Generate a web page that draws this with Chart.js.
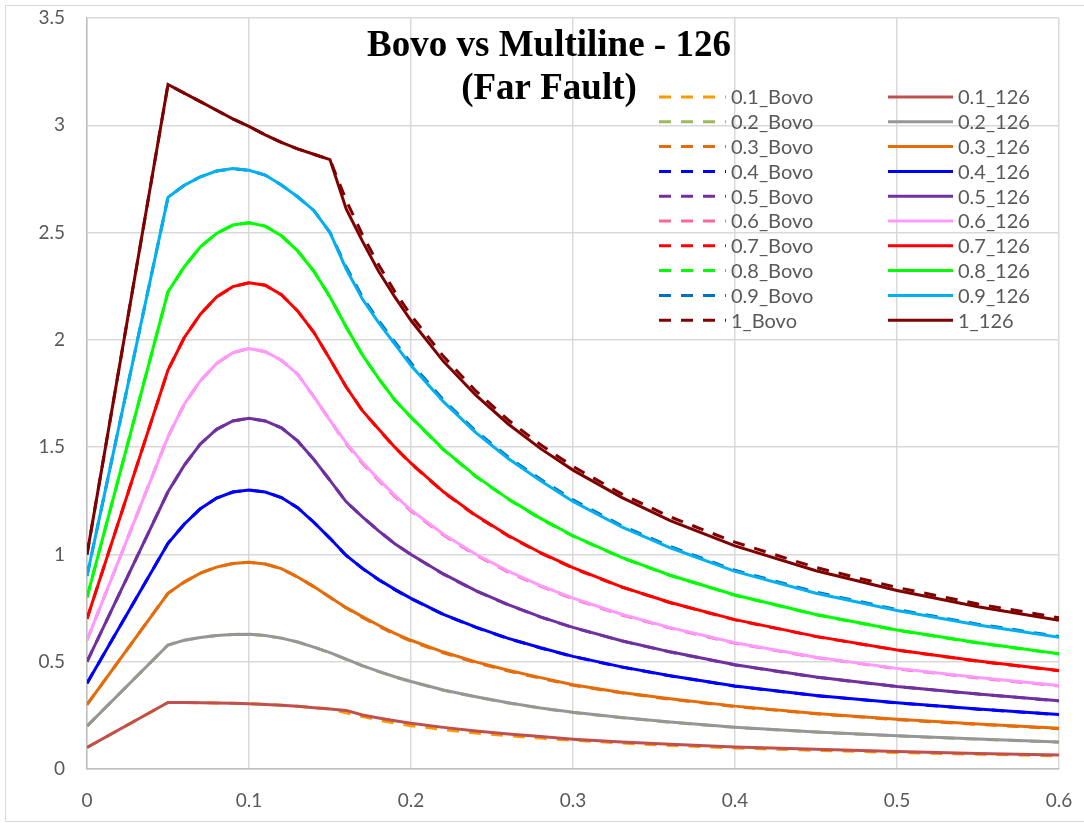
<!DOCTYPE html>
<html>
<head>
<meta charset="utf-8">
<title>Bovo vs Multiline - 126</title>
<script src="https://cdn.jsdelivr.net/npm/chart.js@4.4.1/dist/chart.umd.min.js"></script>
<style>
  html, body { margin: 0; padding: 0; background: #fff; }
  #wrap { width: 1084px; height: 823px; }
</style>
</head>
<body>
<div id="wrap"><canvas id="chart" width="1084" height="823"></canvas></div>
<script>
// periods (s)
const periods = [0, 0.05, 0.06, 0.07, 0.08, 0.09, 0.10, 0.11, 0.12, 0.13, 0.14, 0.15, 0.16, 0.17, 0.18, 0.19, 0.20,
                 0.22, 0.24, 0.26, 0.28, 0.30, 0.33, 0.36, 0.40, 0.45, 0.50, 0.55, 0.60];

// Bovo spectra
const bovo_01 = [0.10, 0.31, 0.31, 0.309, 0.308, 0.306, 0.304, 0.301, 0.297, 0.292, 0.286, 0.28, 0.262, 0.245, 0.228, 0.214, 0.202, 0.184, 0.168, 0.155, 0.144, 0.134, 0.121, 0.11, 0.098, 0.087, 0.077, 0.069, 0.061];
const bovo_02 = [0.20, 0.578, 0.60, 0.613, 0.622, 0.627, 0.628, 0.622, 0.61, 0.592, 0.568, 0.542, 0.511, 0.481, 0.454, 0.429, 0.407, 0.367, 0.336, 0.308, 0.283, 0.263, 0.239, 0.218, 0.194, 0.172, 0.154, 0.139, 0.125];
const bovo_03 = [0.30, 0.819, 0.871, 0.913, 0.941, 0.958, 0.963, 0.955, 0.934, 0.895, 0.85, 0.80, 0.75, 0.706, 0.666, 0.628, 0.596, 0.541, 0.496, 0.457, 0.423, 0.39, 0.355, 0.325, 0.291, 0.257, 0.23, 0.208, 0.188];
const bovo_04 = [0.40, 1.052, 1.141, 1.213, 1.263, 1.291, 1.30, 1.291, 1.265, 1.218, 1.15, 1.075, 0.995, 0.935, 0.882, 0.836, 0.794, 0.72, 0.66, 0.608, 0.564, 0.524, 0.475, 0.434, 0.386, 0.342, 0.308, 0.279, 0.253];
const bovo_05 = [0.50, 1.292, 1.415, 1.515, 1.583, 1.622, 1.634, 1.622, 1.59, 1.529, 1.443, 1.345, 1.245, 1.175, 1.11, 1.05, 0.999, 0.908, 0.83, 0.765, 0.708, 0.659, 0.597, 0.545, 0.485, 0.428, 0.384, 0.349, 0.317];
const bovo_06 = [0.60, 1.549, 1.70, 1.81, 1.89, 1.94, 1.96, 1.945, 1.905, 1.84, 1.735, 1.625, 1.515, 1.425, 1.345, 1.27, 1.202, 1.09, 0.997, 0.918, 0.852, 0.793, 0.718, 0.657, 0.586, 0.519, 0.467, 0.424, 0.387];
const bovo_07 = [0.70, 1.859, 2.01, 2.12, 2.20, 2.248, 2.266, 2.255, 2.21, 2.135, 2.035, 1.91, 1.78, 1.67, 1.583, 1.498, 1.423, 1.29, 1.18, 1.086, 1.006, 0.936, 0.848, 0.775, 0.695, 0.617, 0.554, 0.502, 0.458];
const bovo_08 = [0.80, 2.224, 2.34, 2.434, 2.496, 2.535, 2.546, 2.53, 2.485, 2.415, 2.32, 2.20, 2.06, 1.93, 1.82, 1.72, 1.638, 1.488, 1.363, 1.257, 1.166, 1.085, 0.985, 0.902, 0.81, 0.719, 0.647, 0.587, 0.536];
const bovo_09 = [0.90, 2.664, 2.72, 2.76, 2.787, 2.798, 2.79, 2.768, 2.722, 2.667, 2.603, 2.50, 2.34, 2.20, 2.09, 1.99, 1.892, 1.72, 1.575, 1.454, 1.35, 1.254, 1.134, 1.037, 0.926, 0.824, 0.743, 0.675, 0.618];
const bovo_10 = [1.00, 3.19, 3.15, 3.11, 3.07, 3.03, 2.995, 2.955, 2.92, 2.89, 2.865, 2.84, 2.65, 2.49, 2.35, 2.225, 2.115, 1.923, 1.762, 1.627, 1.511, 1.41, 1.282, 1.175, 1.057, 0.939, 0.846, 0.769, 0.705];

// Multiline model 126
const ml_01 = [0.10, 0.31, 0.31, 0.309, 0.308, 0.306, 0.304, 0.301, 0.297, 0.292, 0.286, 0.28, 0.273, 0.252, 0.238, 0.225, 0.213, 0.194, 0.177, 0.163, 0.151, 0.139, 0.126, 0.115, 0.103, 0.092, 0.081, 0.072, 0.065];
const ml_02 = [0.20, 0.578, 0.60, 0.613, 0.622, 0.627, 0.628, 0.622, 0.61, 0.592, 0.568, 0.542, 0.512, 0.482, 0.455, 0.43, 0.408, 0.368, 0.337, 0.309, 0.284, 0.264, 0.24, 0.219, 0.195, 0.173, 0.155, 0.14, 0.126];
const ml_03 = [0.30, 0.819, 0.871, 0.913, 0.941, 0.958, 0.963, 0.955, 0.934, 0.895, 0.85, 0.80, 0.752, 0.71, 0.67, 0.632, 0.60, 0.545, 0.499, 0.46, 0.426, 0.393, 0.357, 0.327, 0.293, 0.259, 0.232, 0.21, 0.19];
const ml_04 = [0.40, 1.052, 1.141, 1.213, 1.263, 1.291, 1.30, 1.291, 1.265, 1.218, 1.15, 1.075, 0.995, 0.935, 0.883, 0.837, 0.795, 0.721, 0.661, 0.609, 0.565, 0.525, 0.476, 0.435, 0.387, 0.343, 0.309, 0.28, 0.254];
const ml_05 = [0.50, 1.292, 1.415, 1.515, 1.583, 1.622, 1.634, 1.622, 1.59, 1.529, 1.443, 1.345, 1.245, 1.175, 1.11, 1.05, 1.00, 0.909, 0.831, 0.766, 0.709, 0.66, 0.598, 0.546, 0.486, 0.429, 0.385, 0.35, 0.318];
const ml_06 = [0.60, 1.549, 1.70, 1.81, 1.89, 1.94, 1.96, 1.945, 1.905, 1.84, 1.735, 1.625, 1.52, 1.43, 1.35, 1.275, 1.207, 1.094, 1.001, 0.922, 0.855, 0.796, 0.721, 0.659, 0.588, 0.521, 0.469, 0.426, 0.389];
const ml_07 = [0.70, 1.859, 2.01, 2.12, 2.20, 2.248, 2.266, 2.255, 2.21, 2.135, 2.035, 1.91, 1.78, 1.67, 1.585, 1.50, 1.425, 1.292, 1.182, 1.088, 1.008, 0.938, 0.849, 0.776, 0.696, 0.618, 0.555, 0.503, 0.459];
const ml_08 = [0.80, 2.224, 2.34, 2.434, 2.496, 2.535, 2.546, 2.53, 2.485, 2.415, 2.32, 2.20, 2.06, 1.93, 1.82, 1.72, 1.64, 1.49, 1.365, 1.259, 1.168, 1.087, 0.986, 0.903, 0.811, 0.72, 0.648, 0.588, 0.537];
const ml_09 = [0.90, 2.664, 2.72, 2.76, 2.787, 2.798, 2.79, 2.768, 2.722, 2.667, 2.603, 2.50, 2.33, 2.19, 2.08, 1.98, 1.88, 1.712, 1.568, 1.447, 1.343, 1.247, 1.128, 1.031, 0.921, 0.819, 0.739, 0.671, 0.614];
const ml_10 = [1.00, 3.19, 3.15, 3.11, 3.07, 3.03, 2.995, 2.955, 2.92, 2.89, 2.865, 2.84, 2.61, 2.46, 2.32, 2.20, 2.09, 1.90, 1.742, 1.608, 1.493, 1.393, 1.266, 1.158, 1.040, 0.924, 0.832, 0.756, 0.693];

const bovoLabels = ['0.1_Bovo', '0.2_Bovo', '0.3_Bovo', '0.4_Bovo', '0.5_Bovo', '0.6_Bovo', '0.7_Bovo', '0.8_Bovo', '0.9_Bovo', '1_Bovo'];
const mlLabels = ['0.1_126', '0.2_126', '0.3_126', '0.4_126', '0.5_126', '0.6_126', '0.7_126', '0.8_126', '0.9_126', '1_126'];
const bovoSeries = [bovo_01, bovo_02, bovo_03, bovo_04, bovo_05, bovo_06, bovo_07, bovo_08, bovo_09, bovo_10];
const mlSeries = [ml_01, ml_02, ml_03, ml_04, ml_05, ml_06, ml_07, ml_08, ml_09, ml_10];

const xTicks = [0, 0.1, 0.2, 0.3, 0.4, 0.5, 0.6];
const yTicks = [0, 0.5, 1, 1.5, 2, 2.5, 3, 3.5];
const titleLines = ['Bovo vs Multiline - 126', '(Far Fault)'];

const bovoColors = ['#ff9900', '#9bbb59', '#e46c0a', '#0000ff', '#7030a0', '#ff6699', '#ff0000', '#00ff00', '#0070c0', '#7f0000'];
const mlColors = ['#c0504d', '#969696', '#e46c0a', '#0000ff', '#7030a0', '#ff99ff', '#ff0000', '#00ff00', '#00b0f0', '#7f0000'];

const TEXT = '#595959';
const FONT = 'Lato, "Open Sans", "Liberation Sans", sans-serif';

function toPoints(ys) {
    return periods.map((x, i) => ({x: x, y: ys[i]}));
}

const datasets = [];
for (let i = 0; i < 10; i++) {
    datasets.push({
        label: bovoLabels[i],
        data: toPoints(bovoSeries[i]),
        borderColor: bovoColors[i],
        borderWidth: 3,
        borderDash: [12, 10],
        pointRadius: 0,
        tension: 0,
        order: 1
    });
}
for (let i = 0; i < 10; i++) {
    datasets.push({
        label: mlLabels[i],
        data: toPoints(mlSeries[i]),
        borderColor: mlColors[i],
        borderWidth: 3,
        pointRadius: 0,
        tension: 0,
        order: 0
    });
}

function fmt(v) {
    return String(+v.toFixed(2));
}

// labels may hang outside the plot, so drop the extra room the scales ask for
function noOverhang(s) {
    s.paddingTop = 0;
    s.paddingBottom = 0;
    s.paddingLeft = 0;
    s.paddingRight = 0;
}

// white page, thin frame, title and the two-column legend
const decorations = {
    id: 'decorations',
    beforeDraw(chart) {
        const ctx = chart.ctx;
        ctx.save();
        ctx.fillStyle = '#fff';
        ctx.fillRect(0, 0, chart.width, chart.height);
        ctx.strokeStyle = '#d9d9d9';
        ctx.lineWidth = 1;
        ctx.strokeRect(5.5, 5.5, chart.width + 10, 816);
        ctx.restore();
    },
    afterDraw(chart) {
        const ctx = chart.ctx;
        ctx.save();
        ctx.fillStyle = '#000';
        ctx.textAlign = 'center';
        ctx.textBaseline = 'alphabetic';
        ctx.font = 'bold 37px "Liberation Serif", "DejaVu Serif", serif';
        ctx.fillText(titleLines[0], 549, 56);
        ctx.fillText(titleLines[1], 549, 99);

        ctx.font = '20px ' + FONT;
        ctx.textAlign = 'left';
        ctx.textBaseline = 'middle';
        const cols = [
            {x0: 659, x1: 726, sets: datasets.slice(0, 10)},
            {x0: 888, x1: 953, sets: datasets.slice(10)}
        ];
        cols.forEach(col => {
            col.sets.forEach((ds, i) => {
                const y = 97 + i * 24.8;
                ctx.strokeStyle = ds.borderColor;
                ctx.lineWidth = ds.borderWidth;
                ctx.setLineDash(ds.borderDash || []);
                ctx.beginPath();
                ctx.moveTo(col.x0, y);
                ctx.lineTo(col.x1, y);
                ctx.stroke();
                ctx.setLineDash([]);
                ctx.fillStyle = TEXT;
                ctx.fillText(ds.label, col.x1 + 5, y + 1);
            });
        });
        ctx.restore();
    }
};

const ctx = document.getElementById('chart').getContext('2d');
const chart = new Chart(ctx, {
    type: 'line',
    data: {datasets: datasets},
    plugins: [decorations],
    options: {
        responsive: false,
        animation: false,
        devicePixelRatio: 1,
        layout: {padding: {top: 18, right: 25, left: 0, bottom: 0}},
        plugins: {
            legend: {display: false},
            title: {display: false},
            tooltip: {enabled: false}
        },
        scales: {
            x: {
                type: 'linear',
                min: 0,
                max: 0.6,
                afterFit: s => { s.height = 54; noOverhang(s); },
                afterBuildTicks: s => { s.ticks = xTicks.map(v => ({value: v})); },
                ticks: {color: TEXT, font: {family: FONT, size: 19}, padding: 20, callback: fmt, maxRotation: 0},
                grid: {color: '#d9d9d9', lineWidth: 1.5, drawTicks: false},
                border: {color: '#bfbfbf', width: 1.5}
            },
            y: {
                min: 0,
                max: 3.5,
                afterFit: s => { s.width = 87; noOverhang(s); },
                afterBuildTicks: s => { s.ticks = yTicks.map(v => ({value: v})); },
                ticks: {color: TEXT, font: {family: FONT, size: 19}, padding: 22, callback: fmt},
                grid: {color: '#d9d9d9', lineWidth: 1.5, drawTicks: false},
                border: {color: '#bfbfbf', width: 1.5}
            }
        }
    }
});
</script>
</body>
</html>
